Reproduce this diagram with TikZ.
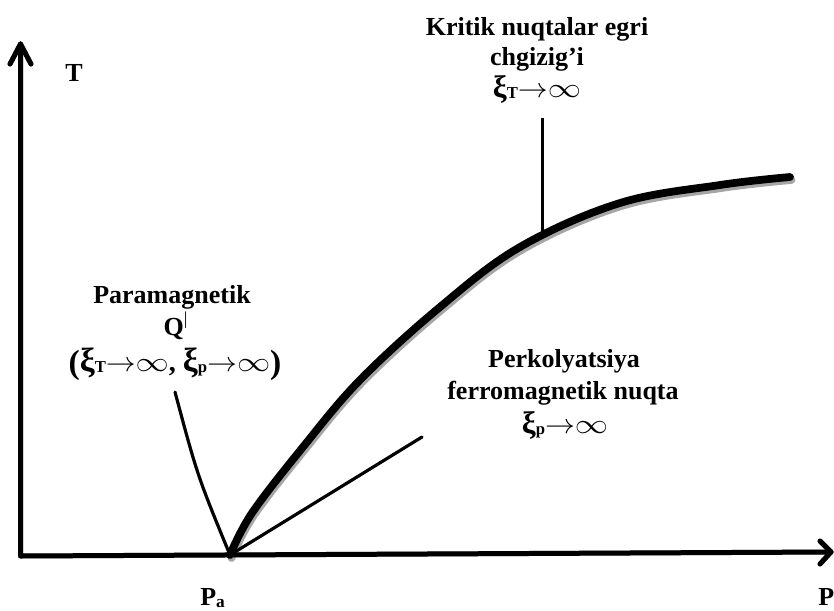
\documentclass[tikz,border=0pt]{standalone}
\usepackage{fontspec}
\setmainfont{Liberation Serif}
\usepackage{graphicx}
\newcommand\myarr{\scalebox{1.08}[1]{$\rightarrow$}}
\newcommand\myinf{\scalebox{1.2}[1]{$\infty$}}
\newcommand\myxi[1]{\scalebox{1.2}{ξ}\raisebox{-1pt}{\fontsize{12.5}{12.5}\selectfont #1}}
\newcommand\bigpar[1]{\raisebox{-1.5pt}{\scalebox{1.2}{#1}}}
\tikzset{
  lbl/.style={font=\bfseries\fontsize{19.5}{22}\selectfont, anchor=base, inner sep=0pt},
  biglbl/.style={font=\bfseries\fontsize{21}{24}\selectfont, anchor=base, inner sep=0pt},
  axline/.style={line width=3.75pt, line cap=round, line join=round},
  thickline/.style={line width=5.8pt, line cap=round},
  thinline/.style={line width=2.3pt, line cap=round},
  shadowgray/.style={draw=black!35},
}
\begin{document}
\begin{tikzpicture}[x=0.75pt,y=-0.75pt]
\useasboundingbox (0,0) rectangle (834,610);
% coordinates
\coordinate (O) at (20.5,556);
\coordinate (Ytop) at (20.5,44);
\coordinate (YwL) at (10,64);
\coordinate (YwR) at (31,64);
\coordinate (Xend) at (831,552);
\coordinate (XwU) at (820,541);
\coordinate (XwD) at (820,564);
\coordinate (Pa) at (230,555);
\coordinate (Qtop) at (175,392);
\coordinate (Qc) at (197.5,476);
\coordinate (Fend) at (422,437);
\coordinate (Ktop) at (542,118);
\coordinate (Kbot) at (542,232);
% shadows
\begin{scope}[shift={(1.5,3)}]
  \draw[axline, shadowgray] (Ytop) -- (O) -- (Xend);
  \draw[axline, shadowgray] (YwL) -- (Ytop) -- (YwR);
  \draw[axline, shadowgray] (XwU) -- (Xend) -- (XwD);
  \draw[thickline, shadowgray] plot[smooth, tension=0.6] coordinates
    {(230,555) (252,513) (303,447) (360,380) (440,307) (520,247) (620,203) (720,185) (790,177)};
  \draw[thinline, shadowgray] (Pa) -- (Fend);
  \draw[thinline, shadowgray] (Qtop) .. controls (Qc) .. (Pa);
\end{scope}
% axes
\draw[axline] (Ytop) -- (O) -- (Xend);
\draw[axline] (YwL) -- (Ytop) -- (YwR);
\draw[axline] (XwU) -- (Xend) -- (XwD);
% curves
\draw[thickline] plot[smooth, tension=0.6] coordinates
  {(230,555) (252,513) (303,447) (360,380) (440,307) (520,247) (620,203) (720,185) (790,177)};
\draw[thinline] (Pa) -- (Fend);
\draw[thinline] (Qtop) .. controls (Qc) .. (Pa);
\draw[line width=2.25pt] (Ktop) -- (Kbot);
% labels
\node[lbl] (T) at (74,81) {T};
\node[lbl] (k1) at (537,36) {Kritik nuqtalar egri};
\node[lbl] (k2) at (537,65) {chgizig’i};
\node[lbl] (k3) at (537,97) {\myxi{T}\myarr\myinf};
\node[lbl] (p1) at (172,303) {Paramagnetik};
\node[lbl] (p2) at (176,335) {Q\textsuperscript{\mdseries|}};
\node[biglbl] (p3) at (175,371) {\bigpar{(}\myxi{T}\myarr\myinf, \myxi{p}\myarr\myinf\bigpar{)}};
\node[lbl] (f1) at (564,367) {Perkolyatsiya};
\node[lbl] (f2) at (563,399) {ferromagnetik nuqta};
\node[lbl] (f3) at (565,433) {\myxi{p}\myarr\myinf};
\node[lbl, anchor=base west] (PaL) at (200,605) {P\raisebox{-2pt}{\fontsize{13}{13}\selectfont a}};
\node[lbl, anchor=base west] (PL) at (818,605) {P};
\end{tikzpicture}
\end{document}
